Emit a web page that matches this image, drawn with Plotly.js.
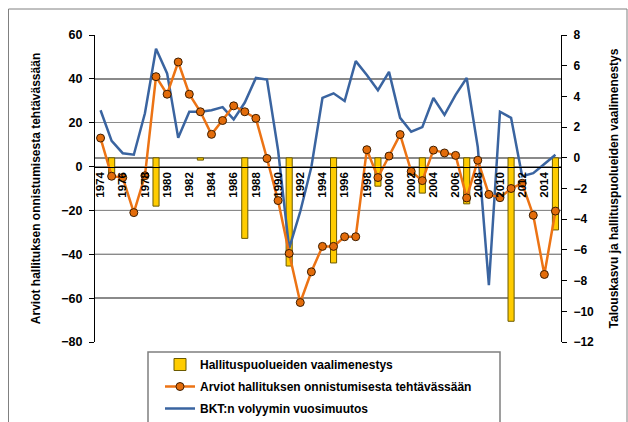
<!DOCTYPE html>
<html>
<head>
<meta charset="utf-8">
<script src="https://cdn.plot.ly/plotly-3.0.1.min.js"></script>
<style>html,body{margin:0;padding:0;background:#fff;}#chart{width:628px;height:422px;}</style>
</head>
<body>
<div id="chart"></div>
<script>
const years = [1974,1975,1976,1977,1978,1979,1980,1981,1982,1983,1984,1985,1986,1987,1988,1989,1990,1991,1992,1993,1994,1995,1996,1997,1998,1999,2000,2001,2002,2003,2004,2005,2006,2007,2008,2009,2010,2011,2012,2013,2014,2015];
const xTickYears = [1974,1976,1978,1980,1982,1984,1986,1988,1990,1992,1994,1996,1998,2000,2002,2004,2006,2008,2010,2012,2014];
// Arviot hallituksen onnistumisesta tehtävässään (left axis)
const arviot = [13,-4.4,-5,-21,-4.2,41,33,47.7,33,25,14.7,21,27.7,25,22,3.7,-15.5,-39.6,-62,-48,-36.4,-36.4,-32,-32,7.7,-5,4.8,14.6,-2.2,-6.4,7.5,6.2,5.1,-14.3,2.9,-12.7,-14.2,-10,-7.6,-22.2,-49.2,-20.3];
// BKT:n volyymin vuosimuutos (right axis)
const bkt = [3.1,1.1,0.3,0.2,2.9,7.1,5.5,1.3,3.0,3.0,3.1,3.3,2.5,3.6,5.2,5.1,0.5,-5.9,-3.5,-0.6,3.9,4.2,3.7,6.3,5.4,4.4,5.6,2.6,1.7,2.0,3.9,2.8,4.1,5.2,0.7,-8.3,3.0,2.6,-1.2,-1.0,-0.4,0.2];
// Hallituspuolueiden vaalimenestys (right axis), election years
const vaaliYears = [1975,1979,1983,1987,1991,1995,1999,2003,2007,2011,2015];
const vaali = [-1.0,-3.15,-0.15,-5.25,-7.05,-6.85,-1.85,-2.3,-3.0,-10.65,-4.7];

const nameBars = 'Hallituspuolueiden vaalimenestys';
const nameArviot = 'Arviot hallituksen onnistumisesta tehtävässään';
const nameBkt = 'BKT:n volyymin vuosimuutos';

const FONT = 'Liberation Sans, Arial, sans-serif';

const data = [
  {type:'bar', x: vaaliYears, y: vaali, yaxis:'y2', name: nameBars, width:0.55,
   marker:{color:'#FFCC00', line:{color:'#6b5a00', width:1}}, legendgroup:'a'},
  {type:'scatter', mode:'lines+markers', x: years, y: arviot, yaxis:'y', name: nameArviot,
   line:{color:'#EC7314', width:2.5},
   marker:{symbol:'circle', size:8, color:'#E36C0A', line:{color:'#3d1d00', width:1}}, legendgroup:'b'},
  {type:'scatter', mode:'lines', x: years, y: bkt, yaxis:'y2', name: nameBkt,
   line:{color:'#3A64A0', width:2.5}, legendgroup:'c'}
];

const layout = {
  width:628, height:422,
  margin:{l:95, r:67, t:35, b:80, autoexpand:false},
  paper_bgcolor:'#fff', plot_bgcolor:'rgba(0,0,0,0)',
  font:{family:FONT, color:'#000', size:12},
  showlegend:true,
  barmode:'overlay',
  xaxis:{
    range:[1973.5, 2015.5], anchor:'free', position:80/140,
    tickvals: xTickYears, tickangle:-90, ticks:'',
    tickfont:{family:FONT, size:11.5, weight:'bold'},
    showgrid:false, zeroline:false, showline:true, linecolor:'#000', linewidth:1
  },
  yaxis2:{
    range:[-12, 8], dtick:2, side:'right', anchor:'x',
    showgrid:false, zeroline:true, zerolinecolor:'#8a8a8a', zerolinewidth:1.5,
    showline:true, linecolor:'#000', linewidth:1, ticks:'outside', ticklen:5, tickcolor:'#000',
    tickfont:{family:FONT, size:12, weight:'bold'}, ticklabelstandoff:4,
    title:{text:'Talouskasvu ja hallituspuolueiden vaalimenestys', font:{family:FONT, size:12, weight:'bold'}, standoff:16}
  },
  yaxis:{
    range:[-80, 60], dtick:20, side:'left', overlaying:'y2', anchor:'x',
    showgrid:true, gridcolor:'#8a8a8a', gridwidth:1.5, zeroline:false,
    showline:true, linecolor:'#000', linewidth:1, ticks:'outside', ticklen:5, tickcolor:'#000',
    tickfont:{family:FONT, size:12.5, weight:'bold'}, ticklabelstandoff:4,
    title:{text:'Arviot hallituksen onnistumisesta tehtävässään', font:{family:FONT, size:12, weight:'bold'}, standoff:18}
  },
  legend:{
    x:(160-95)/466, y:(342-350)/307, xanchor:'left', yanchor:'top',
    bgcolor:'rgba(0,0,0,0)', borderwidth:0, traceorder:'grouped', tracegroupgap:3,
    font:{family:FONT, size:12, weight:'bold', color:'#000'}
  },
  shapes:[
    {type:'line', xref:'paper', x0:0, x1:1, yref:'y', y0:-20, y1:-20, line:{color:'#222', width:1}, layer:'below'},
    {type:'line', xref:'paper', x0:0, x1:1, yref:'y', y0:-40, y1:-40, line:{color:'#444', width:1.2}, layer:'below'},
    {type:'rect', xref:'paper', yref:'paper', x0:(148-95)/466, x1:(500-95)/466, y0:(342-428)/307, y1:(342-352)/307, line:{color:'#7f7f7f', width:1.5}, fillcolor:'rgba(0,0,0,0)'},
    {type:'rect', xref:'paper', yref:'paper', x0:(8.5-95)/466, x1:(627-95)/466, y0:(342-430)/307, y1:(342-9)/307, line:{color:'#808080', width:1}, fillcolor:'rgba(0,0,0,0)'}
  ]
};

Plotly.newPlot('chart', data, layout, {displayModeBar:false, staticPlot:true});
</script>
</body>
</html>
